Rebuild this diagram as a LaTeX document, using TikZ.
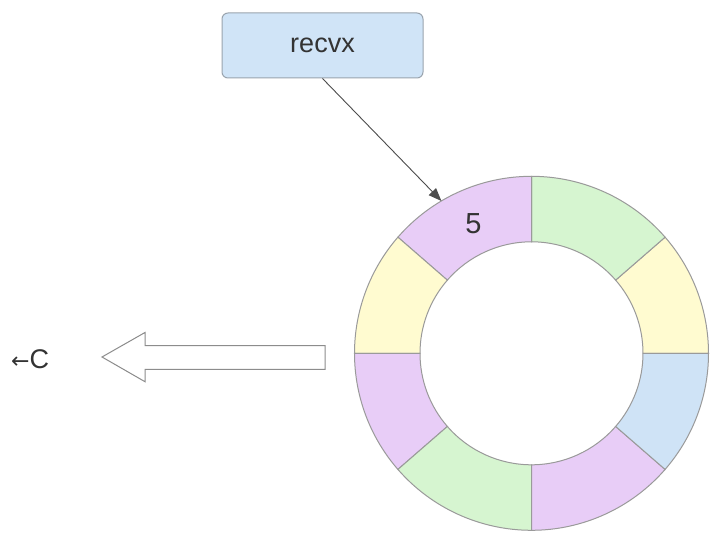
\documentclass[tikz,border=0pt]{standalone}
\usepackage{fontspec}
\setmainfont{Liberation Sans}
\newfontfamily\arrowfont{DejaVu Sans}
\usetikzlibrary{arrows.meta}
\definecolor{ringline}{HTML}{9A9A9A}
\definecolor{cpurple}{HTML}{E8CDF7}
\definecolor{cgreen}{HTML}{D6F5D0}
\definecolor{cyellow}{HTML}{FFFBD0}
\definecolor{cblue}{HTML}{CFE3F6}
\definecolor{boxfill}{HTML}{D0E4F7}
\definecolor{boxline}{HTML}{9AA4AE}
\definecolor{txt}{HTML}{333333}
\tikzset{
  seg/.style={draw=ringline, line width=1pt},
  recvbox/.style={draw=boxline, fill=boxfill, rounded corners=6pt, line width=1pt,
    minimum width=201pt, minimum height=65pt, inner sep=0pt,
    font=\fontsize{27}{32}\selectfont, text=txt},
  pointer/.style={draw=black!70, line width=0.9pt, -{Triangle[length=13pt,width=10pt]}},
  hollow/.style={draw=black!45, fill=white, line width=1pt, line join=miter},
  lbl/.style={font=\fontsize{27}{32}\selectfont, text=txt, inner sep=0pt},
}
\newcommand{\ringseg}[3]{%
  \path[seg, fill=#3] (#1:177pt) arc[start angle=#1, end angle=#2, radius=177pt]
    -- (#2:111.5pt) arc[start angle=#2, end angle=#1, radius=111.5pt] -- cycle;}
\begin{document}
\begin{tikzpicture}[x=1pt,y=1pt]
\useasboundingbox[fill=white] (0,0) rectangle (724,536);
% ring
\begin{scope}[shift={(531.5,182.7)}]
  \ringseg{0}{41}{cyellow}
  \ringseg{41}{90}{cgreen}
  \ringseg{90}{139}{cpurple}
  \ringseg{139}{180}{cyellow}
  \ringseg{180}{221}{cpurple}
  \ringseg{221}{270}{cgreen}
  \ringseg{270}{319}{cpurple}
  \ringseg{319}{360}{cblue}
  \coordinate (slot5) at (120.6:177pt);
  \node[font=\fontsize{29}{34}\selectfont, text=txt, inner sep=0pt] (five) at (-58,129.5) {5};
\end{scope}
% recvx box
\node[recvbox] (recvx) at (322.5,490.5) {recvx};
\draw[pointer] (recvx.south) -- (slot5);
% hollow arrow
\draw[hollow] (102,179) -- (145,203.5) -- (145,190.3) -- (325,190.3) -- (325,166.7)
  -- (145,166.7) -- (145,154.3) -- cycle;
\node[lbl, anchor=west] (lc) at (11,176.5) {{\arrowfont\fontsize{22}{26}\selectfont ←}C};
\end{tikzpicture}
\end{document}
